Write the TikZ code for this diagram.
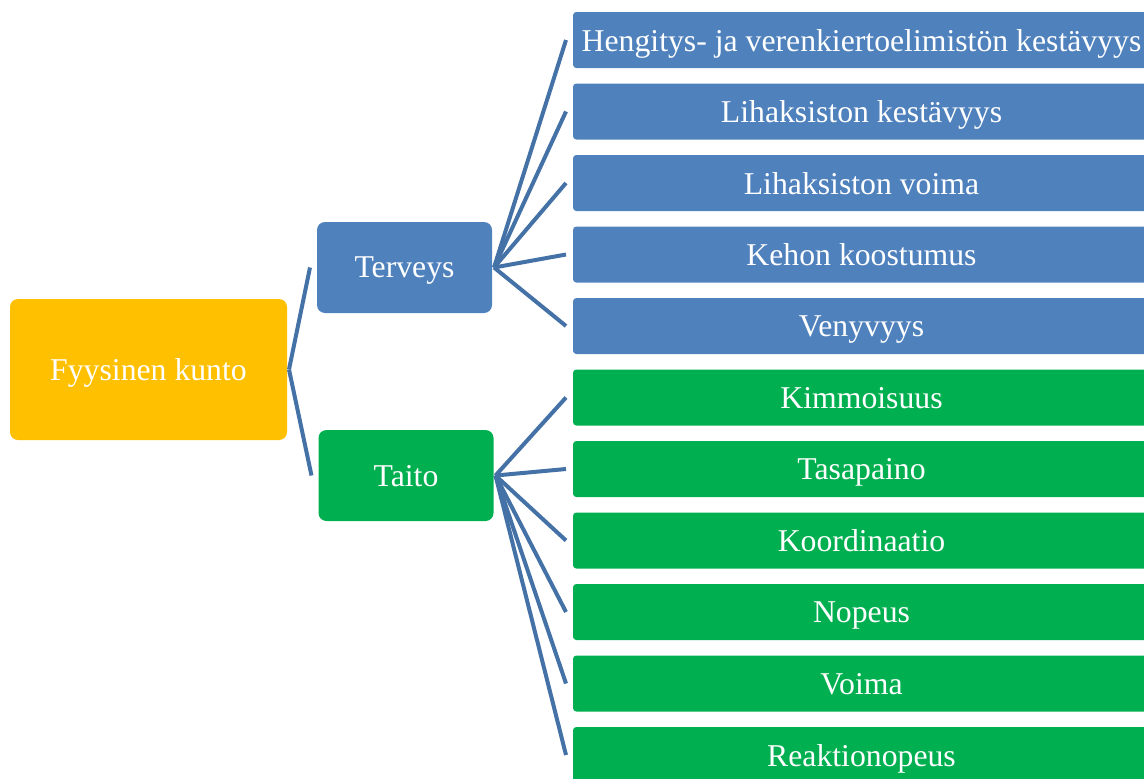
\documentclass[tikz,border=0pt]{standalone}
\usepackage{fontspec}
\setmainfont{Liberation Serif}
\definecolor{blueBox}{RGB}{79,129,189}
\definecolor{greenBox}{RGB}{0,176,80}
\definecolor{orangeBox}{RGB}{255,192,0}
\definecolor{lineBlue}{RGB}{68,114,166}
\begin{document}
\begin{tikzpicture}[x=0.75pt, y=-0.75pt, line width=3pt, draw=lineBlue,
top node/.style={rectangle,fill=orangeBox,rounded corners=6pt,minimum width=207.75pt,minimum height=105.75pt,inner sep=0pt},
group node/.style={rectangle,rounded corners=6pt,minimum width=131.25pt,minimum height=68.25pt,inner sep=0pt},
item node/.style={rectangle,rounded corners=2.5pt,minimum width=432.75pt,minimum height=42pt,inner sep=0pt}]
\useasboundingbox (0,0) rectangle (1144,778);
\clip (0,0) rectangle (1144,778);
\begin{scope}[every node/.style={text=white,text depth=0pt,font=\fontsize{23.8}{28}\selectfont}]
\node[top node] (fk) at (148.5,369.5) {Fyysinen kunto};
\node[group node,fill=blueBox] (ter) at (404.5,267.5) {Terveys};
\node[group node,fill=greenBox] (tai) at (406,475.5) {Taito};
\node[item node,fill=blueBox] (h1) at (861.5,40) {Hengitys- ja verenkiertoelimistön kestävyys};
\node[item node,fill=blueBox] (h2) at (861.5,111.5) {Lihaksiston kestävyys};
\node[item node,fill=blueBox] (h3) at (861.5,183) {Lihaksiston voima};
\node[item node,fill=blueBox] (h4) at (861.5,254.5) {Kehon koostumus};
\node[item node,fill=blueBox] (h5) at (861.5,326) {Venyvyys};
\node[item node,fill=greenBox] (s1) at (861.5,397.5) {Kimmoisuus};
\node[item node,fill=greenBox] (s2) at (861.5,469) {Tasapaino};
\node[item node,fill=greenBox] (s3) at (861.5,540.5) {Koordinaatio};
\node[item node,fill=greenBox] (s4) at (861.5,612) {Nopeus};
\node[item node,fill=greenBox] (s5) at (861.5,683.5) {Voima};
\node[item node,fill=greenBox] (s6) at (861.5,755) {Reaktionopeus};
\end{scope}
\begin{scope}[every edge/.style={draw=lineBlue,line width=3pt}]
\draw (fk.east) edge ([xshift=-3.75pt]ter.west);
\draw (fk.east) edge ([xshift=-3.75pt]tai.west);
\draw (ter.east) edge ([xshift=-3.75pt]h1.west);
\draw (ter.east) edge ([xshift=-3.75pt]h2.west);
\draw (ter.east) edge ([xshift=-3.75pt]h3.west);
\draw (ter.east) edge ([xshift=-3.75pt]h4.west);
\draw (ter.east) edge ([xshift=-3.75pt]h5.west);
\draw (tai.east) edge ([xshift=-3.75pt]s1.west);
\draw (tai.east) edge ([xshift=-3.75pt]s2.west);
\draw (tai.east) edge ([xshift=-3.75pt]s3.west);
\draw (tai.east) edge ([xshift=-3.75pt]s4.west);
\draw (tai.east) edge ([xshift=-3.75pt]s5.west);
\draw (tai.east) edge ([xshift=-3.75pt]s6.west);
\end{scope}
\end{tikzpicture}
\end{document}
